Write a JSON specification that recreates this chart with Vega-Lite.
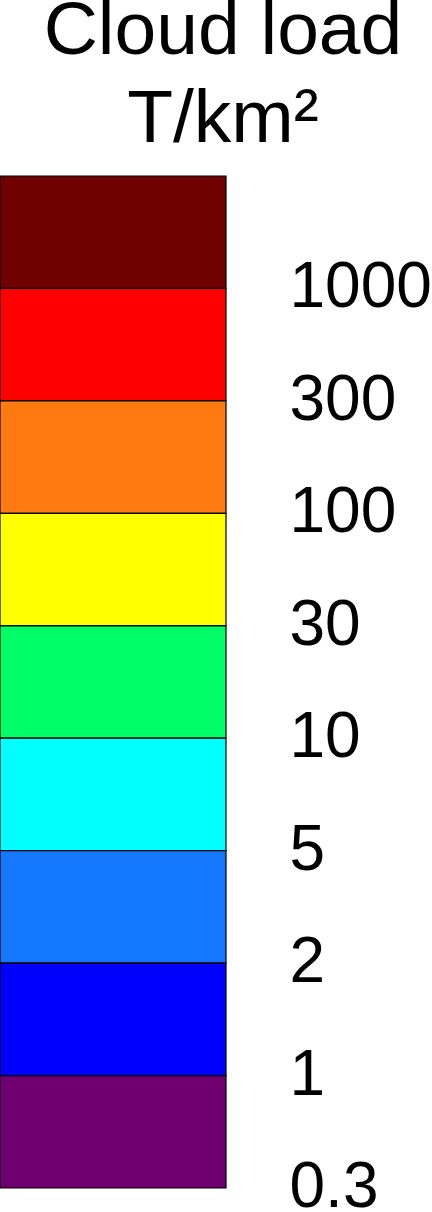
{
  "$schema": "https://vega.github.io/schema/vega-lite/v6.json",
  "autosize": "none",
  "padding": {"left": 0, "top": 0, "right": 206, "bottom": 0},
  "width": 226,
  "height": 1212,
  "background": "white",
  "config": {"view": {"stroke": null}},
  "title": {
    "text": ["Cloud load", "T/km²"],
    "font": "Liberation Sans",
    "fontSize": 75,
    "fontWeight": "normal",
    "color": "black",
    "lineHeight": 88,
    "anchor": "middle",
    "frame": "group",
    "offset": 0,
    "dx": 110,
    "dy": 158
  },
  "data": {
    "values": [
      {"lower": "1000"},
      {"lower": "300"},
      {"lower": "100"},
      {"lower": "30"},
      {"lower": "10"},
      {"lower": "5"},
      {"lower": "2"},
      {"lower": "1"},
      {"lower": "0.3"}
    ]
  },
  "mark": {"type": "rect", "stroke": "black", "strokeWidth": 1.2},
  "encoding": {
    "y": {
      "field": "lower",
      "type": "ordinal",
      "sort": null,
      "scale": {"paddingInner": 0, "paddingOuter": 0.8893, "align": 0.88},
      "axis": {
        "orient": "right",
        "title": null,
        "domain": false,
        "ticks": false,
        "tickSize": 0,
        "grid": false,
        "labelOffset": 56.2,
        "labelPadding": 63,
        "labelFont": "Liberation Sans",
        "labelFontSize": 64,
        "labelColor": "black",
        "labelAlign": "left",
        "labelBaseline": "middle",
        "labelLimit": 300,
        "labelOverlap": false
      }
    },
    "color": {
      "field": "lower",
      "type": "nominal",
      "legend": null,
      "scale": {
        "domain": ["1000", "300", "100", "30", "10", "5", "2", "1", "0.3"],
        "range": ["#700000", "#ff0000", "#ff7a10", "#ffff00", "#00ff66", "#00ffff", "#1478ff", "#0000ff", "#700070"]
      }
    }
  }
}
